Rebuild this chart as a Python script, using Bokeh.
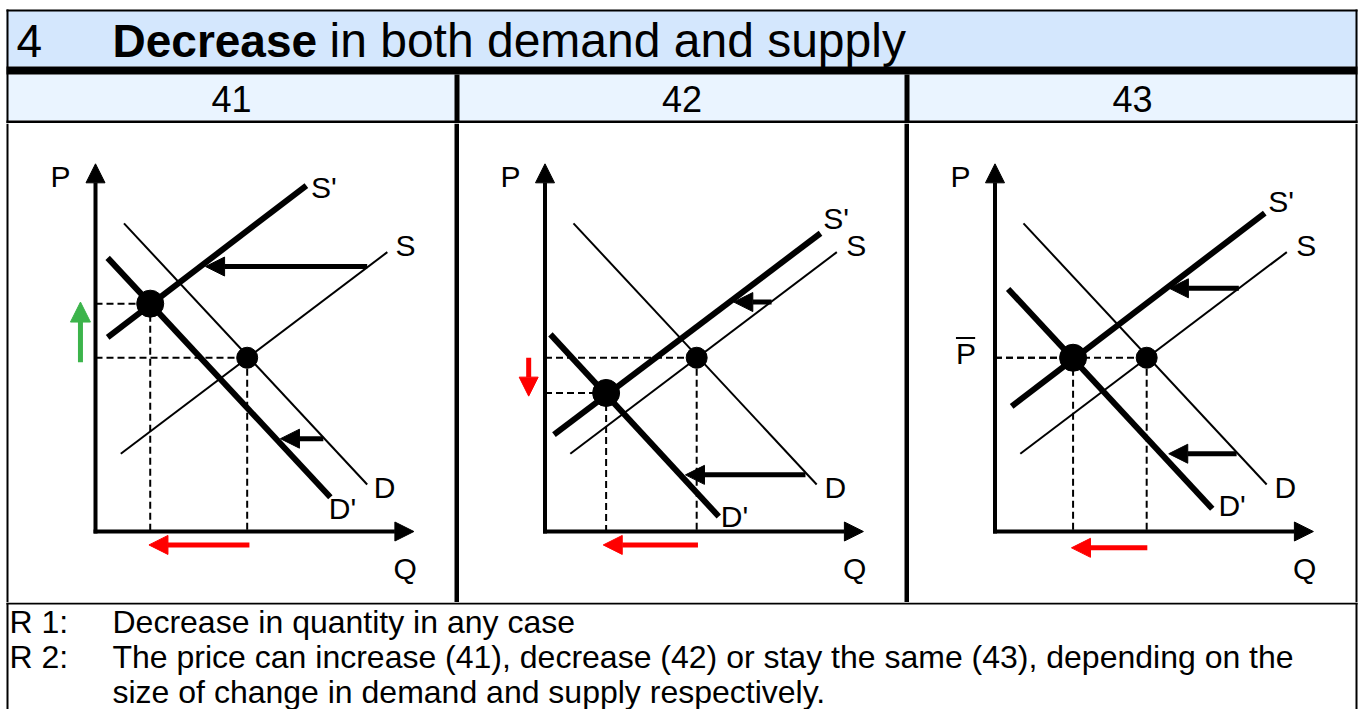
from bokeh.plotting import figure
from bokeh.layouts import column, row
from bokeh.models import Range1d, Arrow, NormalHead
from bokeh.core.properties import value
from bokeh.embed import file_html
from bokeh.resources import INLINE

# ---------------- data (Q, P in diagram units) ----------------
panel_names = ["41", "42", "43"]

# original demand and supply (same in every panel)
D_q = [0.89, 8.49]
D_p = [9.63, 1.47]
S_q = [0.79, 9.12]
S_p = [2.43, 8.73]
E0_q = 4.74
E0_p = 5.43

# new supply S' per panel
S41_q = [0.38, 6.59]
S41_p = [6.07, 10.81]
S42_q = [0.28, 8.61]
S42_p = [3.03, 9.32]
S43_q = [0.52, 8.43]
S43_p = [3.91, 9.95]

# new demand D' per panel
D41_q = [0.38, 7.34]
D41_p = [8.55, 1.07]
D42_q = [0.17, 5.43]
D42_p = [6.16, 0.47]
D43_q = [0.41, 6.79]
D43_p = [7.58, 0.71]

# new equilibrium per panel
E1_q = [1.71, 1.91, 2.44]
E1_p = [7.12, 4.33, 5.43]

# shift arrows: S -> S' (p level, from q, to q), D -> D'
Sshift_p = [8.28, 7.17, 7.60]
Sshift_from = [8.49, 7.08, 7.62]
Sshift_to = [3.44, 5.90, 5.45]
Dshift_p = [2.90, 1.77, 2.43]
Dshift_from = [7.12, 8.14, 7.55]
Dshift_to = [5.78, 4.39, 5.43]

# quantity change arrows (red, below Q axis)
Qchg_from = [4.81, 4.78, 4.76]
Qchg_to = [1.67, 1.82, 2.39]

# axis tips
P_TIP = 11.49
Q_TIP = 9.95

# curve labels
label_text = ["P", "S'", "S", "D", "D'", "Q"]
lab41_q = [-1.09, 7.14, 9.69, 9.03, 7.72, 9.68]
lab41_p = [11.10, 10.76, 8.94, 1.37, 0.71, -1.17]
lab42_q = [-1.08, 9.10, 9.73, 9.07, 5.92, 9.68]
lab42_p = [11.10, 9.77, 8.95, 1.37, 0.48, -1.17]
lab43_q = [-1.08, 8.94, 9.73, 9.07, 7.41, 9.68]
lab43_p = [11.10, 10.32, 8.95, 1.37, 0.81, -1.17]

title_num = "4"
title_bold = "Decrease"
title_rest = "in both demand and supply"
notes_keys = ["R 1:", "R 2:", ""]
notes_text = [
    "Decrease in quantity in any case",
    "The price can increase (41), decrease (42) or stay the same (43), depending on the",
    "size of change in demand and supply respectively.",
]

FONT = value("Liberation Sans")

# ---------------- layout constants (pixels) ----------------
X0, X1 = 0, 1360
HEAD_BOTTOM = 123
PANEL_TOP, PANEL_BOTTOM = 123, 602
PAGE_BOTTOM = 709
SCALE = 32.0
ORIGIN_Y = 531
panel_left = [0, 459, 909]
panel_right = [459, 909, 1360]
origin_x = [95, 544.5, 994.5]
# border stripes inside each panel: (left px, right px)
panel_borders = [
    [(6, 8), (454, 459)],
    [(904, 909)],
    [(1355, 1357)],
]


def base_fig(w, h, xr, yr):
    p = figure(width=w, height=h, x_range=xr, y_range=yr,
               output_backend="svg", toolbar_location=None,
               x_axis_location=None, y_axis_location=None,
               min_border=0)
    p.grid.visible = False
    p.outline_line_color = None
    p.background_fill_color = "white"
    p.border_fill_color = "white"
    return p


def bar(p, l, r, t, b, color="black"):
    p.quad(left=[l], right=[r], top=[t], bottom=[b], fill_color=color, line_color=None)


# ---------------- header ----------------
hdr = base_fig(X1 - X0, HEAD_BOTTOM, Range1d(X0, X1), Range1d(HEAD_BOTTOM, 0))
bar(hdr, 6, 1357, 10, 66, "#D4E7FD")
bar(hdr, 6, 1357, 74, 120, "#EAF4FF")
bar(hdr, 6, 1357, 9, 11)
bar(hdr, 6, 1357, 66, 74)
bar(hdr, 6, 1357, 120, 123)
bar(hdr, 6, 8, 9, 123)
bar(hdr, 1355, 1357, 9, 123)
bar(hdr, 454, 459, 74, 123)
bar(hdr, 904, 909, 74, 123)
hdr.text(x=[16], y=[40], text=[title_num], text_font=FONT, text_font_size="46px",
         text_baseline="middle", text_color="black")
hdr.text(x=[112], y=[40], text=[title_bold], text_font=FONT, text_font_size="46px",
         text_font_style="bold", text_baseline="middle", text_color="black")
hdr.text(x=[329], y=[40], text=[title_rest], text_font=FONT, text_font_size="48px",
         text_baseline="middle", text_color="black")
hdr.text(x=[231, 681.5, 1132], y=[98, 98, 98], text=panel_names, text_font=FONT,
         text_font_size="36px", text_align="center", text_baseline="middle", text_color="black")

# ---------------- panels ----------------
S_new = [(S41_q, S41_p), (S42_q, S42_p), (S43_q, S43_p)]
D_new = [(D41_q, D41_p), (D42_q, D42_p), (D43_q, D43_p)]
labels = [(lab41_q, lab41_p), (lab42_q, lab42_p), (lab43_q, lab43_p)]


def arrow(p, x0, y0, x1, y1, color, lw, size):
    p.add_layout(Arrow(end=NormalHead(size=size, fill_color=color, line_color=color, line_width=1),
                       x_start=x0, y_start=y0, x_end=x1, y_end=y1,
                       line_color=color, line_width=lw))


panels = []
for i in range(3):
    ox = origin_x[i]
    xs = (panel_left[i] - ox) / SCALE
    xe = (panel_right[i] - ox) / SCALE
    ys = (ORIGIN_Y - PANEL_BOTTOM) / SCALE
    ye = (ORIGIN_Y - PANEL_TOP) / SCALE
    p = base_fig(panel_right[i] - panel_left[i], PANEL_BOTTOM - PANEL_TOP,
                 Range1d(xs, xe), Range1d(ys, ye))

    # frame borders
    for l, r in panel_borders[i]:
        p.quad(left=[(l - ox) / SCALE], right=[(r - ox) / SCALE], top=[ye], bottom=[ys],
               fill_color="black", line_color=None)

    # dashed guide lines
    e1q, e1p = E1_q[i], E1_p[i]
    p.segment(x0=[0, 0], y0=[E0_p, e1p], x1=[E0_q, e1q], y1=[E0_p, e1p],
              line_color="black", line_width=2, line_dash="7 4")
    p.segment(x0=[E0_q, e1q], y0=[E0_p, e1p], x1=[E0_q, e1q], y1=[0, 0],
              line_color="black", line_width=2, line_dash="7 4")

    # curves
    p.line(D_q, D_p, line_color="black", line_width=2)
    p.line(S_q, S_p, line_color="black", line_width=2)
    p.line(S_new[i][0], S_new[i][1], line_color="black", line_width=6)
    p.line(D_new[i][0], D_new[i][1], line_color="black", line_width=6)

    # equilibria
    p.scatter([E0_q], [E0_p], size=21, color="black")
    p.scatter([e1q], [e1p], size=27, color="black")

    # axes
    arrow(p, 0, -0.06, 0, P_TIP, "black", 4, 19)
    arrow(p, -0.06, 0, Q_TIP, 0, "black", 4, 19)

    # shift arrows
    arrow(p, Sshift_from[i], Sshift_p[i], Sshift_to[i], Sshift_p[i], "black", 5, 19)
    arrow(p, Dshift_from[i], Dshift_p[i], Dshift_to[i], Dshift_p[i], "black", 5, 19)

    # quantity change
    qy = -0.42 if i < 2 else -0.51
    arrow(p, Qchg_from[i], qy, Qchg_to[i], qy, "#FF0000", 5, 19)

    # price change
    if i == 0:
        arrow(p, -0.47, E0_p - 0.14, -0.47, e1p + 0.05, "#3CB44B", 5, 20)
    elif i == 1:
        arrow(p, -0.51, E0_p, -0.51, e1p - 0.1, "#FF0000", 5, 19)
    else:
        p.text(x=[-0.91], y=[5.55], text=["P"], text_font=FONT, text_font_size="30px",
               text_align="center", text_baseline="middle", text_color="black")
        p.segment(x0=[-1.22], y0=[6.05], x1=[-0.62], y1=[6.05], line_color="black", line_width=2)

    lq, lp = labels[i]
    p.text(x=lq, y=lp, text=label_text, text_font=FONT, text_font_size="30px",
           text_align="center", text_baseline="middle", text_color="black")
    panels.append(p)

# ---------------- notes ----------------
nts = base_fig(X1 - X0, PAGE_BOTTOM - PANEL_BOTTOM, Range1d(X0, X1), Range1d(PAGE_BOTTOM, PANEL_BOTTOM))
bar(nts, 6, 1357, 602, 604)
bar(nts, 6, 8, 602, 709)
bar(nts, 1355, 1357, 602, 709)
nts.text(x=[9, 9, 9], y=[621, 656, 691], text=notes_keys, text_font=FONT, text_font_size="32px",
         text_baseline="middle", text_color="black")
nts.text(x=[112, 112, 112], y=[621, 656, 691], text=notes_text, text_font=FONT, text_font_size="32px",
         text_baseline="middle", text_color="black")

layout = column(hdr, row(*panels, spacing=0), nts, spacing=0)
open("out.html", "w").write(file_html(layout, INLINE))
